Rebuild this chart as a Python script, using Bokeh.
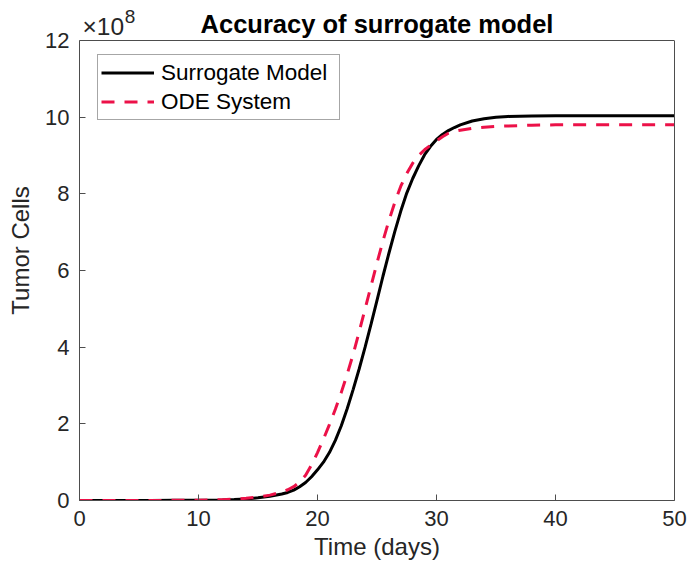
from bokeh.plotting import figure
from bokeh.models import Range1d, Label, Legend, LegendItem, FixedTicker, LinearAxis, Span
from bokeh.embed import file_html
from bokeh.resources import INLINE

# ---- data (values in units of 1e8 tumor cells) ----
time_days = [0, 2, 4, 6, 8, 10, 12, 13, 14, 15, 16, 17, 17.5, 18, 18.5, 19, 19.5, 20,
             20.5, 21, 21.5, 22, 22.5, 23, 23.5, 24, 24.5, 25, 25.5, 26, 26.5, 27, 27.5,
             28, 28.5, 29, 29.5, 30, 30.5, 31, 31.5, 32, 33, 34, 35, 36, 38, 40, 45, 50]
surrogate = [0.0, 0.0005, 0.001, 0.002, 0.004, 0.006, 0.015, 0.025, 0.04, 0.07, 0.11,
             0.17, 0.21, 0.27, 0.36, 0.47, 0.62, 0.8, 1.0, 1.25, 1.57, 1.95, 2.4, 2.9,
             3.43, 4.0, 4.6, 5.22, 5.85, 6.45, 7.02, 7.55, 8.02, 8.4, 8.73, 9.02, 9.24,
             9.42, 9.55, 9.65, 9.73, 9.8, 9.9, 9.96, 10.0, 10.02, 10.03, 10.04, 10.04, 10.04]
ode_system = [0.0, 0.0005, 0.001, 0.002, 0.004, 0.008, 0.02, 0.035, 0.06, 0.09, 0.14,
              0.22, 0.28, 0.36, 0.48, 0.66, 0.93, 1.25, 1.6, 1.98, 2.38, 2.82, 3.3, 3.82,
              4.4, 5.0, 5.6, 6.2, 6.77, 7.3, 7.78, 8.2, 8.53, 8.8, 9.0, 9.15, 9.27,
              9.38, 9.49, 9.58, 9.63, 9.66, 9.71, 9.74, 9.76, 9.77, 9.79, 9.8, 9.8, 9.8]
x_ticks = [0, 10, 20, 30, 40, 50]
y_ticks = [0, 2, 4, 6, 8, 10, 12]

FONT = "Liberation Sans"
AX = "#262626"
LINE = "#4d4d4d"
RED = "#EC1148"

Y_MAX = y_ticks[-1]
FRAME_H, AXES_H = 500, 460        # frame extends above the axes box to hold the title
y_top = Y_MAX * FRAME_H / AXES_H

p = figure(width=690, height=575, output_backend="svg", toolbar_location=None, title=None,
           x_range=Range1d(x_ticks[0], x_ticks[-1]), y_range=Range1d(0, y_top),
           min_border_left=79, min_border_right=16, min_border_top=0, min_border_bottom=75)

p.xgrid.visible = False
p.ygrid.visible = False
p.background_fill_color = "white"
p.border_fill_color = "white"
p.outline_line_color = None

right_axis = LinearAxis(ticker=FixedTicker(ticks=[]), bounds=(0, Y_MAX),
                        axis_line_color=LINE, major_tick_line_color=None,
                        minor_tick_line_color=None)
p.add_layout(right_axis, "right")

for ax in [p.xaxis[0], p.yaxis[0]]:
    ax.minor_tick_line_color = None
    ax.major_tick_in = 6
    ax.major_tick_out = 0
    ax.axis_line_color = LINE
    ax.major_tick_line_color = LINE
    ax.major_label_text_font = FONT
    ax.major_label_text_font_size = "22px"
    ax.major_label_text_color = AX
    ax.axis_label_text_font = FONT
    ax.axis_label_text_font_size = "24px"
    ax.axis_label_text_font_style = "normal"
    ax.axis_label_text_color = AX

p.xaxis[0].ticker = FixedTicker(ticks=x_ticks)
p.yaxis[0].ticker = FixedTicker(ticks=y_ticks)
p.yaxis[0].bounds = (0, Y_MAX)

p.xaxis[0].axis_label = "Time (days)"
p.yaxis[0].axis_label = "Tumor Cells"
p.xaxis[0].major_label_standoff = 10
p.yaxis[0].major_label_standoff = 10
p.xaxis[0].axis_label_standoff = 4
p.yaxis[0].axis_label_standoff = 8

p.add_layout(Span(location=Y_MAX, dimension="width", line_color=LINE, line_width=1))

r1 = p.line(time_days, surrogate, line_color="black", line_width=3)
r2 = p.line(time_days, ode_system, line_color=RED, line_width=3, line_dash="13 10")

legend = Legend(items=[LegendItem(label="Surrogate Model", renderers=[r1]),
                       LegendItem(label="ODE System", renderers=[r2])],
                location=(18, 380), padding=3, spacing=0,
                label_text_font=FONT, label_text_font_size="22.5px",
                label_text_color="#000000", glyph_width=53, label_height=29,
                glyph_height=29, label_standoff=7, label_width=175,
                border_line_color=LINE, border_line_width=1,
                background_fill_color="white", background_fill_alpha=1)
p.add_layout(legend)

# title and exponent, drawn inside the (extended) frame above the axes box
p.add_layout(Label(x=(x_ticks[0] + x_ticks[-1]) / 2, y=12.44, text="Accuracy of surrogate model",
                   text_align="center", text_baseline="alphabetic", text_font=FONT,
                   text_font_size="25.5px", text_font_style="bold", text_color="#000000"))
p.add_layout(Label(x=0.25, y=12.36, text="×10", text_baseline="alphabetic",
                   text_font=FONT, text_font_size="24.5px", text_color=AX))
p.add_layout(Label(x=3.8, y=12.62, text="8", text_baseline="alphabetic",
                   text_font=FONT, text_font_size="19px", text_color=AX))

open("out.html", "w").write(file_html(p, INLINE))
